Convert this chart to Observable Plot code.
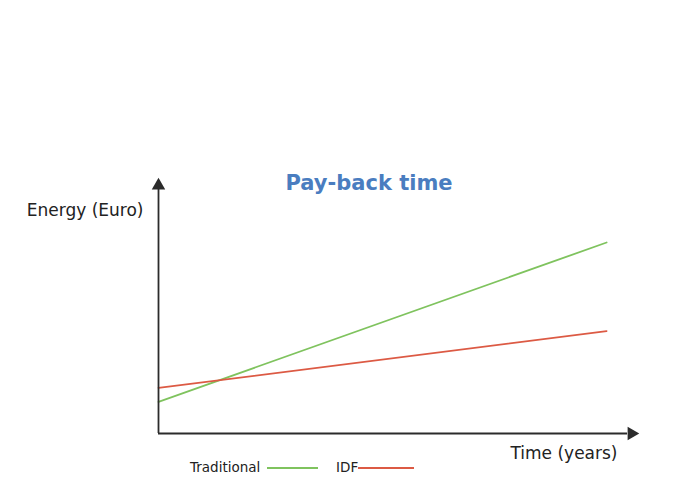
<!DOCTYPE html>
<html>
<head>
<meta charset="utf-8">
<script src="https://cdn.jsdelivr.net/npm/d3@7"></script>
<script src="https://cdn.jsdelivr.net/npm/@observablehq/plot@0.6"></script>
<style>
  body { margin: 0; background: #fff; font-family: "DejaVu Sans", sans-serif; }
  #wrap { position: relative; width: 681px; height: 479px; }
  #legend { position: absolute; left: 0; top: 458px; width: 681px; height: 21px; font-size: 13.5px; color: #222; }
  #legend span { position: absolute; top: 0px; line-height: 18px; }
  #legend .sw { position: absolute; top: 9px; height: 2px; }
</style>
</head>
<body>
<div id="wrap">
  <div id="chart"></div>
  <div id="legend"></div>
</div>
<script>
const years = [0, 15];
const seriesNames = ["Traditional", "IDF"];
const traditional = [12.5, 75.5];
const idf = [18, 40.5];
const colors = ["#7fc35e", "#dc5a44"];
const title = "Pay-back time";
const yLabel = "Energy (Euro)";
const xLabel = "Time (years)";

const rows = [];
years.forEach((t, i) => {
  rows.push({series: seriesNames[0], time: t, energy: traditional[i]});
  rows.push({series: seriesNames[1], time: t, energy: idf[i]});
});

const axisColor = "#2b2b2b";
const plot = Plot.plot({
  width: 681,
  height: 479,
  marginLeft: 158,
  marginRight: 45,
  marginTop: 180,
  marginBottom: 46,
  x: {domain: [0, 16], axis: null},
  y: {domain: [0, 100], axis: null},
  color: {domain: seriesNames, range: colors},
  style: {fontFamily: "DejaVu Sans, sans-serif", background: "#fff"},
  marks: [
    Plot.line(rows, {x: "time", y: "energy", z: "series", stroke: "series", strokeWidth: 1.8}),
    Plot.ruleX([0], {stroke: axisColor, strokeWidth: 1.8, y1: 0, y2: 97}),
    Plot.ruleY([0], {stroke: axisColor, strokeWidth: 1.8, x1: 0, x2: 15.7}),
    Plot.dot([{x: 0, y: 100}], {x: "x", y: "y", symbol: "triangle", r: 5, fill: axisColor, dy: 5}),
    Plot.dot([{x: 16, y: 0}], {x: "x", y: "y", symbol: "triangle", r: 5, fill: axisColor, rotate: 90, dx: -5}),
    Plot.text([title], {frameAnchor: "top-left", lineAnchor: "middle", textAnchor: "start", dx: 127, dy: 3, fill: "#4a7dc0", fontSize: 21, fontWeight: "bold"}),
    Plot.text([yLabel], {frameAnchor: "top-left", lineAnchor: "middle", textAnchor: "end", dx: -15, dy: 30, fill: "#222", fontSize: 17}),
    Plot.text([xLabel], {frameAnchor: "bottom-right", lineAnchor: "middle", textAnchor: "end", dx: -19, dy: 20, fill: "#222", fontSize: 17})
  ]
});
document.getElementById("chart").appendChild(plot);

const legend = document.getElementById("legend");
const legendItems = [
  {name: seriesNames[0], color: colors[0], textX: 190, swX: 267, swW: 51},
  {name: seriesNames[1], color: colors[1], textX: 336, swX: 358, swW: 56}
];
legendItems.forEach(it => {
  const s = document.createElement("span");
  s.textContent = it.name;
  s.style.left = it.textX + "px";
  legend.appendChild(s);
  const sw = document.createElement("div");
  sw.className = "sw";
  sw.style.left = it.swX + "px";
  sw.style.width = it.swW + "px";
  sw.style.background = it.color;
  legend.appendChild(sw);
});
</script>
</body>
</html>
